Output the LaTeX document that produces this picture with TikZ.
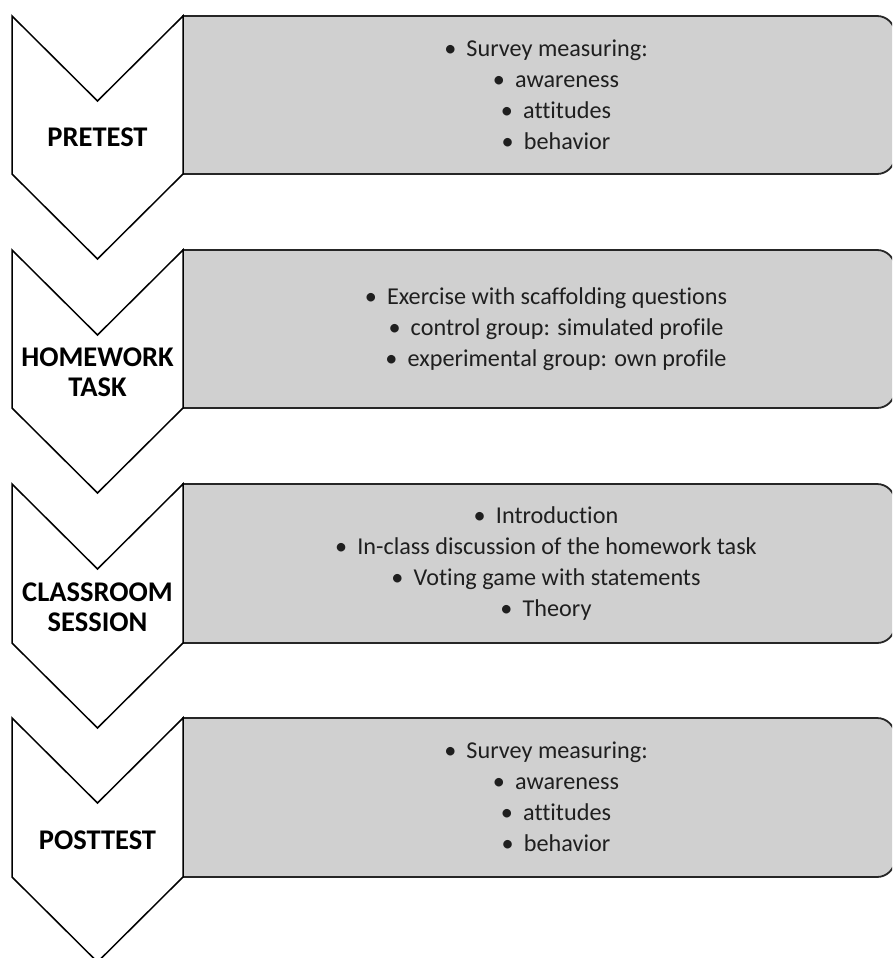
\documentclass[tikz,border=0pt]{standalone}
\usepackage{fontspec}
\setmainfont[Ligatures={NoCommon}]{Carlito}
\definecolor{boxgray}{RGB}{208,208,208}
\newcommand{\indentbullet}{\hspace*{20pt}}
\newcommand{\itembullet}{\textbullet\hspace{0.42em}}
\tikzset{
  stage/.style={draw=black, fill=white, line width=1.5pt, line join=miter},
  stagebox/.style={draw=black!85, fill=boxgray, line width=1.8pt},
  stagelabel/.style={align=center, inner sep=0pt, font=\fontsize{28.5}{30}\selectfont\bfseries},
  stagetext/.style={align=center, inner sep=0pt, text=black!88, font=\fontsize{24.2}{31}\selectfont}
}
\begin{document}
\begin{tikzpicture}[x=1pt,y=-1pt]
\useasboundingbox (0,0) rectangle (892,958);
\clip (0,0) rectangle (892,958);
% pretest
\draw[stagebox] (183,16) [rounded corners=18pt] -- (895,16) -- (895,174) [sharp corners] -- (183,174) -- cycle;
\draw[stage] (12,16) -- (97.5,101) -- (183,16) -- (183,174) -- (97.5,259) -- (12,174) -- cycle;
\node[stagelabel] (pre) at (97.5,137) {PRETEST};
\node[stagetext] (pretext) at (546,95) {\itembullet Survey measuring:\\
  \indentbullet\itembullet awareness\\
  \indentbullet\itembullet attitudes\\
  \indentbullet\itembullet behavior};
% homework task
\draw[stagebox] (183,250) [rounded corners=18pt] -- (895,250) -- (895,408) [sharp corners] -- (183,408) -- cycle;
\draw[stage] (12,250) -- (97.5,335) -- (183,250) -- (183,408) -- (97.5,493) -- (12,408) -- cycle;
\node[stagelabel] (home) at (97.5,372) {HOMEWORK\\TASK};
\node[stagetext] (hometext) at (546,329) {\itembullet Exercise with scaffolding questions\\
  \indentbullet\itembullet control group: simulated profile\\
  \indentbullet\itembullet experimental group: own profile};
% classroom session
\draw[stagebox] (183,484) [rounded corners=18pt] -- (895,484) -- (895,643) [sharp corners] -- (183,643) -- cycle;
\draw[stage] (12,484) -- (97.5,569) -- (183,484) -- (183,643) -- (97.5,728) -- (12,643) -- cycle;
\node[stagelabel] (class) at (97.5,607) {CLASSROOM\\SESSION};
\node[stagetext] (classtext) at (546,564) {\itembullet Introduction\\
  \itembullet In-class discussion of the homework task\\
  \itembullet Voting game with statements\\
  \itembullet Theory};
% posttest
\draw[stagebox] (183,718) [rounded corners=18pt] -- (895,718) -- (895,877) [sharp corners] -- (183,877) -- cycle;
\draw[stage] (12,718) -- (97.5,803) -- (183,718) -- (183,877) -- (97.5,962) -- (12,877) -- cycle;
\node[stagelabel] (post) at (97.5,840) {POSTTEST};
\node[stagetext] (posttext) at (546,797) {\itembullet Survey measuring:\\
  \indentbullet\itembullet awareness\\
  \indentbullet\itembullet attitudes\\
  \indentbullet\itembullet behavior};
\end{tikzpicture}
\end{document}
